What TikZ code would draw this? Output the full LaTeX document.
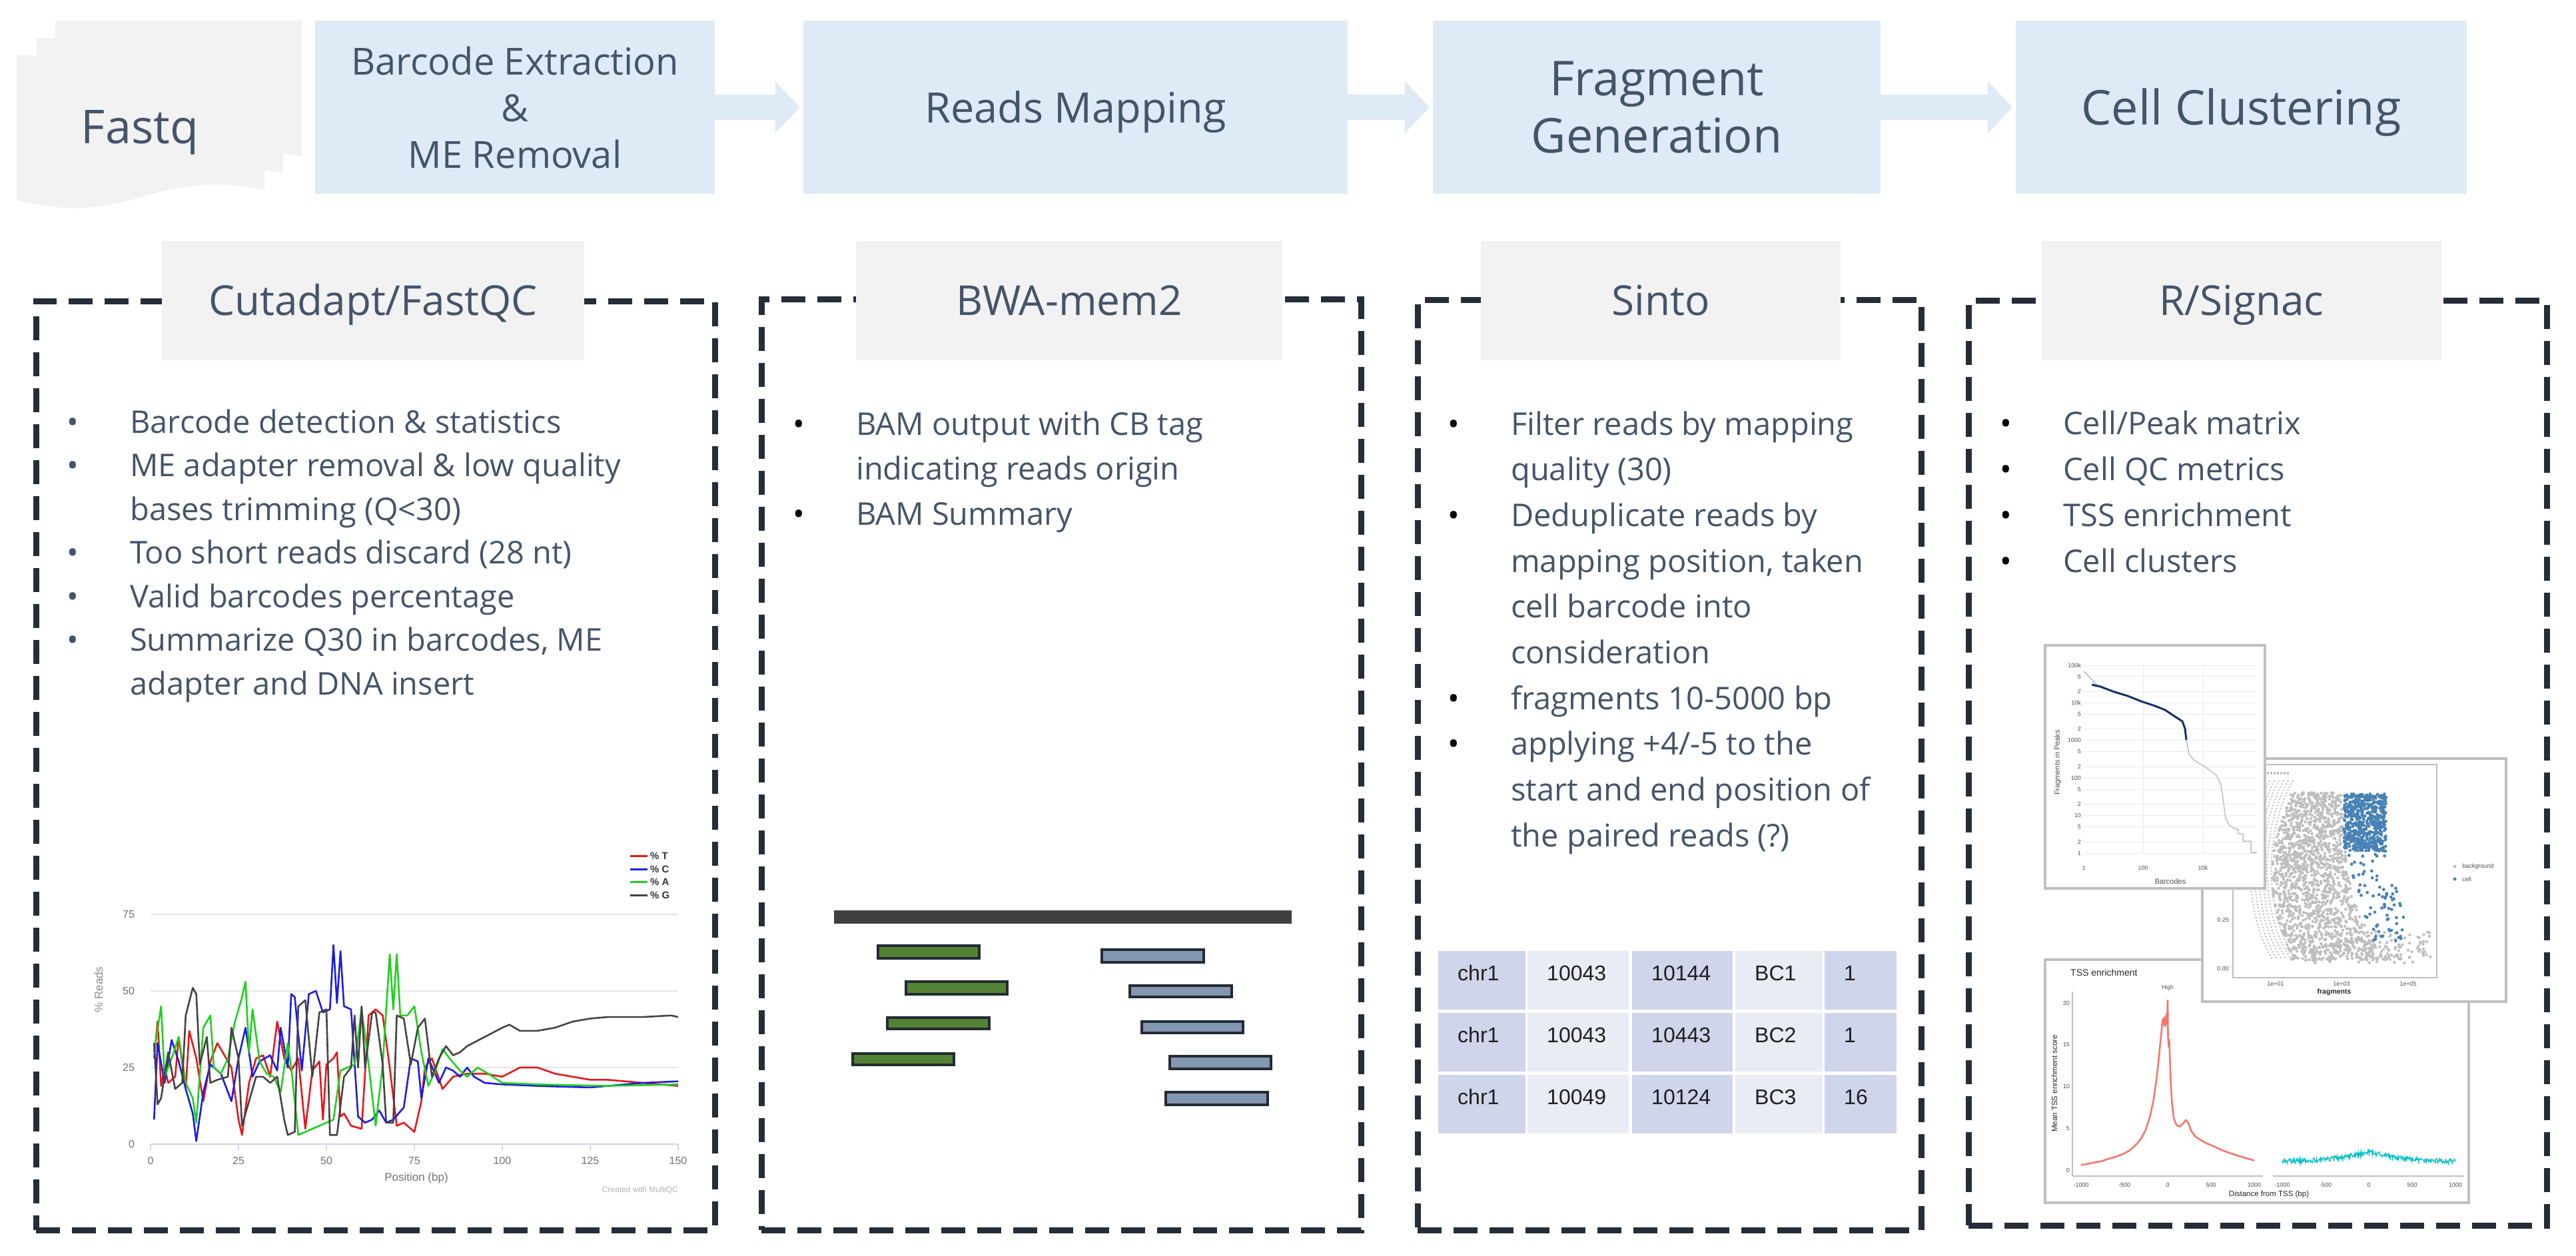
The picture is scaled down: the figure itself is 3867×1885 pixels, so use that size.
\documentclass[tikz,border=0pt]{standalone}
\usepackage{fontspec}
\setmainfont{Open Sans}
\newfontfamily\arialfont{Liberation Sans}

\definecolor{txtcol}{HTML}{44546A}
\definecolor{stepfill}{HTML}{DEEAF6}
\definecolor{toolfill}{HTML}{F2F2F2}
\definecolor{dashcol}{HTML}{252D38}
\definecolor{tabdark}{HTML}{CFD5EA}
\definecolor{tablight}{HTML}{E9EBF5}
\definecolor{readgreen}{HTML}{548235}
\definecolor{readblue}{HTML}{8497B0}
\definecolor{readedge}{HTML}{222A35}
\definecolor{refcol}{HTML}{404040}
\definecolor{qcT}{HTML}{E8161B}
\definecolor{qcC}{HTML}{1C1CE3}
\definecolor{qcA}{HTML}{1FD01F}
\definecolor{qcG}{HTML}{434343}
\definecolor{qcgridcol}{HTML}{E6E6E6}
\definecolor{qcaxiscol}{HTML}{CCD6EB}
\definecolor{kneenavy}{HTML}{132F6B}
\definecolor{cellblue}{HTML}{4682B4}
\definecolor{bggrey}{HTML}{BEBEBE}
\definecolor{tssred}{HTML}{F8766D}
\definecolor{tsscyan}{HTML}{00BFC4}
\definecolor{framegrey}{HTML}{BFBFBF}
\definecolor{gridgrey}{HTML}{EBEBEB}
\definecolor{labgrey}{HTML}{4D4D4D}

\tikzset{
  stepbox/.style={fill=stepfill, inner sep=0pt, align=center, text=txtcol, minimum height=260pt},
  toolbox/.style={fill=toolfill, inner sep=0pt, text=txtcol, minimum height=179pt,
    font=\fontsize{62}{74}\selectfont, text height=44pt, text depth=0pt},
  panel/.style={draw=dashcol, line width=9pt, dash pattern=on 36pt off 18pt, inner sep=0pt},
  item/.style={anchor=base west, inner sep=0pt, text=txtcol, font=\fontsize{47}{60}\selectfont},
  sheet/.style={fill=toolfill},
  flow/.style={fill=stepfill},
  readg/.style={fill=readgreen, draw=readedge, line width=3.5pt},
  readb/.style={fill=readblue, draw=readedge, line width=3.5pt},
  tcell/.style={anchor=north west, inner xsep=29pt, inner ysep=0pt, text height=44pt, text depth=44pt,
    align=left, text=black!88, font=\arialfont\fontsize{32}{38}\selectfont},
  qcline/.style={line width=2.6pt, line join=round},
  qcgrid/.style={draw=qcgridcol, line width=1.5pt},
  qcaxis/.style={draw=qcaxiscol, line width=2pt},
  qctick/.style={inner sep=0pt, text=black!55, font=\arialfont\fontsize{16}{19}\selectfont},
  ptick/.style={inner sep=0pt, text=labgrey, font=\arialfont\fontsize{9}{11}\selectfont},
  plotframe/.style={fill=white, draw=framegrey, line width=4pt},
}

\newcommand{\bul}{\llap{\textbullet\hspace{77pt}}}
\newcommand{\bulk}{\llap{\textcolor{black}{\textbullet}\hspace{77pt}}}
\newcommand{\flowarrow}[2]{%
  \fill[flow] ([yshift=19pt]#1.east) -- ([xshift=-42pt,yshift=19pt]#2.west)
    -- ([xshift=-42pt,yshift=39pt]#2.west) -- ([xshift=-5pt]#2.west)
    -- ([xshift=-42pt,yshift=-39pt]#2.west) -- ([xshift=-42pt,yshift=-19pt]#2.west)
    -- ([yshift=-19pt]#1.east) -- cycle;}

\begin{document}
\begin{tikzpicture}[x=1pt, y=-1pt]
\useasboundingbox (0,0) rectangle (3867,1885);
\fill[white] (0,0) rectangle (3867,1885);

% input files
\fill[sheet] (83,31) -- (453,31) -- (453,235) .. controls (288,200) and (250,295) .. (83,250) -- cycle;
\fill[sheet] (55,57) -- (425,57) -- (425,260) .. controls (260,225) and (222,320) .. (55,275) -- cycle;
\fill[sheet] (25,83) -- (397,83) -- (397,285) .. controls (230,250) and (192,345) .. (25,300) -- cycle;
\node[inner sep=0pt, anchor=base, text=txtcol, font=\fontsize{70}{84}\selectfont] (fq) at (210,215) {Fastq};

% pipeline steps
\node[stepbox, minimum width=600pt, font=\fontsize{56}{70}\selectfont] (bce) at (773,161)
  {Barcode Extraction\\\&\\ME Removal};
\node[stepbox, minimum width=817pt, font=\fontsize{63}{75}\selectfont, text height=46pt, text depth=0pt] (rm) at (1614.5,161)
  {Reads Mapping};
\node[stepbox, minimum width=672pt, font=\fontsize{72}{86}\selectfont] (fg) at (2487,161)
  {Fragment\\Generation};
\node[stepbox, minimum width=677pt, font=\fontsize{72}{86}\selectfont, text height=52pt, text depth=0pt] (cc) at (3364.5,161)
  {Cell Clustering};
\flowarrow{bce}{rm}
\flowarrow{rm}{fg}
\flowarrow{fg}{cc}

% tool panels
\node[panel, minimum width=1019pt, minimum height=1395pt] (p1) at (563.5,1149.5) {};
\node[panel, minimum width=900pt, minimum height=1398pt] (p2) at (1593,1148) {};
\node[panel, minimum width=756pt, minimum height=1397pt] (p3) at (2506,1148.5) {};
\node[panel, minimum width=868pt, minimum height=1389pt] (p4) at (3389,1145.5) {};
\node[toolbox, minimum width=634pt] (t1) at (560,451.5) {Cutadapt/FastQC};
\node[toolbox, minimum width=640pt] (t2) at (1605,451.5) {BWA-mem2};
\node[toolbox, minimum width=540pt] (t3) at (2493,451.5) {Sinto};
\node[toolbox, minimum width=600pt] (t4) at (3365,451.5) {R/Signac};

% Cutadapt/FastQC
\node[item] (c1) at (195,650) {\bul Barcode detection \& statistics};
\node[item] (c2) at (195,715.5) {\bul ME adapter removal \& low quality};
\node[item] (c3) at (195,781) {bases trimming (Q<30)};
\node[item] (c4) at (195,846.5) {\bul Too short reads discard (28 nt)};
\node[item] (c5) at (195,912) {\bul Valid barcodes percentage};
\node[item] (c6) at (195,977.5) {\bul Summarize Q30 in barcodes, ME};
\node[item] (c7) at (195,1043) {adapter and DNA insert};

% BWA-mem2
\node[item] (w1) at (1285,653) {\bulk BAM output with CB tag};
\node[item] (w2) at (1285,720.5) {indicating reads origin};
\node[item] (w3) at (1285,788) {\bulk BAM Summary};

% Sinto
\node[item] (s1) at (2268,653) {\bulk Filter reads by mapping};
\node[item] (s2) at (2268,721) {quality (30)};
\node[item] (s3) at (2268,790) {\bulk Deduplicate reads by};
\node[item] (s4) at (2268,859) {mapping position, taken};
\node[item] (s5) at (2268,927) {cell barcode into};
\node[item] (s6) at (2268,996) {consideration};
\node[item] (s7) at (2268,1065) {\bulk fragments 10-5000 bp};
\node[item] (s8) at (2268,1133) {\bulk applying +4/-5 to the};
\node[item] (s9) at (2268,1202) {start and end position of};
\node[item] (s10) at (2268,1271) {the paired reads (?)};

% R/Signac
\node[item] (r1) at (3097,652) {\bulk Cell/Peak matrix};
\node[item] (r2) at (3097,721) {\bulk Cell QC metrics};
\node[item] (r3) at (3097,790) {\bulk TSS enrichment};
\node[item] (r4) at (3097,859) {\bulk Cell clusters};

% per base sequence content
\begin{scope}[shift={(226,1718)}, xscale=5.28, yscale=-4.6]
  \foreach \g in {25,50,75} \draw[qcgrid] (0,\g) -- (150,\g);
  \draw[qcaxis] (0,0) -- (150,0);
  \foreach \t in {0,25,...,150} {
    \draw[qcaxis] (\t,0) -- (\t,-2);
    \node[qctick] (qx\t) at (\t,-5.4) {\t};
  }
  \foreach \g in {0,25,50,75} \node[qctick, anchor=east] (qy\g) at (-4.5,\g) {\g};
  \draw[qcline, qcT] plot coordinates {(1,28) (2,40) (3,19) (4,25) (5,20) (7,22) (8,35) (10,18) (11,37) (13,28) (15,14) (17,27) (19,33) (21,29) (23,25) (25,8) (26,3) (28,20) (30,28) (32,29) (34,22) (36,40) (38,28) (40,24) (42,28) (44,5) (46,24) (48,27) (49,8) (50,26) (52,28) (53,30) (54,9) (55,10) (57,6) (60,5) (62,42) (64,44) (66,42) (68,25) (70,6) (72,7) (75,4) (77,14) (78,25) (80,28) (83,18) (86,22) (90,23) (95,23) (100,22) (105,25) (110,25) (115,23) (120,22) (125,21) (130,21) (140,20) (150,19)};
  \draw[qcline, qcC] plot coordinates {(1,8) (2,33) (4,20) (6,34) (8,27) (10,18) (12,10) (13,1) (15,17) (17,26) (20,23) (23,14) (25,28) (27,38) (29,22) (31,27) (34,29) (36,24) (37,38) (39,25) (40,49) (41,48) (43,24) (45,49) (47,50) (49,43) (51,44) (52,65) (53,46) (54,63) (55,45) (57,44) (59,9) (61,7) (63,8) (65,11) (67,7) (69,8) (72,12) (74,28) (76,27) (77,15) (79,28) (82,20) (84,25) (86,24) (88,22) (90,25) (92,22) (95,20) (100,19.5) (110,19) (125,18.5) (140,20) (150,20.5)};
  \draw[qcline, qcA] plot coordinates {(1,30) (3,45) (4,22) (6,28) (8,35) (10,20) (12,15) (13,7) (15,38) (17,42) (18,25) (20,23) (22,28) (24,40) (26,48) (27,53) (28,30) (29,44) (31,27) (33,23) (35,22) (37,17) (39,33) (40,25) (42,3) (44,4) (46,5) (48,6) (50,7) (52,8) (54,24) (56,25) (58,26) (60,44) (62,26) (64,6) (66,26) (68,62) (69,44) (70,62) (71,42) (73,42) (75,45) (77,30) (79,19) (81,24) (83,31) (85,28) (88,24) (90,22) (93,25) (96,23) (100,20) (110,19.5) (130,19) (150,19.5)};
  \draw[qcline, qcG] plot coordinates {(1,33) (2,13) (3,15) (5,30) (7,18) (9,20) (10,42) (12,51) (13,49) (14,26) (16,35) (17,20) (19,21) (22,22) (23,38) (25,28) (26,6) (28,14) (30,22) (32,22) (34,20) (36,22) (38,8) (39,3) (41,4) (42,45) (44,47) (46,22) (48,43) (50,44) (51,3) (53,3) (55,22) (57,25) (58,42) (59,25) (60,45) (61,25) (63,43) (64,43) (66,26) (67,7) (69,7) (70,42) (72,41) (74,26) (76,38) (78,41) (80,22) (82,28) (84,32) (86,29) (88,30) (90,32) (95,35) (100,38) (102,39) (105,37) (110,37) (115,38) (120,40) (125,41) (130,41.5) (140,41.5) (148,42) (150,41.5)};
\end{scope}
\foreach \c/\lab/\yy in {qcT/T/1285,qcC/C/1305,qcA/A/1324,qcG/G/1344} {
  \draw[\c, line width=3pt] (946,\yy) -- (972,\yy);
  \node[inner sep=0pt, anchor=west, text=black!80, font=\arialfont\bfseries\fontsize{15}{18}\selectfont] (lg\lab) at (976,\yy) {\% \lab};
}
\node[inner sep=0pt, text=black!55, font=\arialfont\fontsize{17}{20}\selectfont] (qcxl) at (625,1769) {Position (bp)};
\node[inner sep=0pt, rotate=90, text=black!45, font=\arialfont\fontsize{17}{20}\selectfont] (qcyl) at (148,1486) {\% Reads};
\node[inner sep=0pt, anchor=east, text=black!30, font=\arialfont\fontsize{12}{14}\selectfont] (qcby) at (1018,1787) {Created with MultiQC};

% reads on the reference
\fill[refcol] (1252,1367) rectangle (1939,1387);
\draw[readg] (1318,1420) rectangle (1470,1439);
\draw[readg] (1360,1474) rectangle (1512,1493);
\draw[readg] (1332,1528) rectangle (1485,1545);
\draw[readg] (1280,1582) rectangle (1432,1599);
\draw[readb] (1654,1426) rectangle (1807,1445);
\draw[readb] (1696,1480) rectangle (1849,1497);
\draw[readb] (1714,1534) rectangle (1866,1551);
\draw[readb] (1756,1586) rectangle (1908,1605);
\draw[readb] (1750,1640) rectangle (1903,1659);

% fragments table
\foreach \r/\yy/\ca/\cb/\cc/\cd/\ce in {1/1428/chr1/10043/10144/BC1/1, 2/1521/chr1/10043/10443/BC2/1, 3/1614/chr1/10049/10124/BC3/16} {
  \node[tcell, fill=tabdark, text width=73pt] (row\r-a) at (2159,\yy) {\ca};
  \node[tcell, fill=tablight, text width=94pt] (row\r-b) at (2293,\yy) {\cb};
  \node[tcell, fill=tabdark, text width=93pt] (row\r-c) at (2450,\yy) {\cc};
  \node[tcell, fill=tablight, text width=73pt] (row\r-d) at (2605,\yy) {\cd};
  \node[tcell, fill=tabdark, text width=50pt] (row\r-e) at (2739,\yy) {\ce};
}

% TSS enrichment
\draw[plotframe] (3070,1441) rectangle (3706,1806);
\node[inner sep=0pt, anchor=west, text=black!85, font=\arialfont\fontsize{14}{16}\selectfont] (tsst) at (3108,1460) {TSS enrichment};
\node[ptick, font=\arialfont\fontsize{8.5}{10}\selectfont] (tssh) at (3254,1483) {High};
\draw[framegrey, line width=1.2pt] (3111,1489) -- (3111,1766);
\draw[framegrey, line width=1.2pt] (3111,1766) -- (3397,1766);
\draw[framegrey, line width=1.2pt] (3412,1766) -- (3699,1766);
\foreach \v in {0,5,10,15,20} \node[ptick, anchor=east] (ty\v) at (3107,{1757-12.55*\v}) {\v};
\foreach \d in {-1000,-500,0,500,1000} {
  \node[ptick] (tl\d) at ({3254+0.13*\d},1779) {\d};
  \node[ptick] (tr\d) at ({3556+0.13*\d},1779) {\d};
}
\node[inner sep=0pt, rotate=90, text=black!85, font=\arialfont\fontsize{11.5}{14}\selectfont] (tssy) at (3084,1627) {Mean TSS enrichment score};
\node[inner sep=0pt, text=black!85, font=\arialfont\fontsize{11.5}{14}\selectfont] (tssx) at (3406,1793) {Distance from TSS (bp)};
\pgfmathsetseed{7}
\begin{scope}[shift={(3254,1757)}, xscale=0.13, yscale=-12.55]
  \draw[tssred, line width=2.6pt, line join=round] plot coordinates {(-1000,0.6) (-950,0.7) (-900,0.8) (-850,0.9) (-800,1.0) (-750,1.1) (-700,1.3) (-650,1.45) (-600,1.6) (-550,1.8) (-500,2.0) (-450,2.3) (-400,2.7) (-350,3.2) (-300,3.9) (-250,4.9) (-200,6.6) (-160,8.6) (-130,10.8) (-100,13.6) (-80,15.8) (-65,17.2) (-55,18.1) (-45,17.4) (-35,18.3) (-25,17.2) (-15,18.6) (-8,17.5) (0,20.3) (4,16) (10,14.8) (18,15.6) (25,13.5) (35,10.5) (50,8) (70,6.2) (100,5.4) (140,5.2) (180,5.6) (210,6.0) (240,5.6) (270,4.7) (320,4.0) (380,3.6) (450,3.2) (520,2.9) (600,2.5) (700,2.1) (800,1.75) (900,1.45) (1000,1.15)};
\end{scope}
\begin{scope}[shift={(3556,1757)}, xscale=0.13, yscale=-12.55]
  \draw[tsscyan, line width=1.3pt] plot[domain=-1000:1000, samples=320] (\x,{0.9+1.3*exp(-abs(\x)/420)+0.3*rand});
\end{scope}

% cell calling scatter
\draw[plotframe] (3306,1139) rectangle (3762,1504);
\draw[framegrey, line width=1.2pt] (3352,1148) rectangle (3658,1468);
\begin{scope}
  \clip (3353,1149) rectangle (3657,1467);
  \foreach \k in {0,...,5}
    \draw[bggrey, line width=2pt, dash pattern=on 2pt off 3pt] ({3442-7*\k},1172) .. controls ({3398-6*\k},1250) and ({3398-6*\k},1370) .. ({3446-7*\k},1440);
  \draw[bggrey, line width=4pt, dash pattern=on 3pt off 2pt] (3403,1161) -- (3436,1161);
  \foreach \i in {1,...,1600} {
    \pgfmathsetmacro\v{rnd}
    \pgfmathsetmacro\xl{3440-30*sin(180*\v)}
    \pgfmathsetmacro\xr{3514+22*\v+80*\v^6}
    \fill[bggrey] ({\xl+(\xr-\xl)*rnd},{1190+252*\v}) circle[radius=2.2pt];
  }
  \foreach \i in {1,...,160} \fill[bggrey] ({3440+210*rnd},{1398+48*rnd}) circle[radius=2.2pt];
  \foreach \i in {1,...,650} \fill[cellblue] ({3518+64*rnd},{1192+86*rnd}) circle[radius=2.2pt];
  \foreach \i in {1,...,80} {
    \pgfmathsetmacro\v{rnd}
    \fill[cellblue] ({3520+60*rnd+40*\v},{1275+140*\v}) circle[radius=2.4pt];
  }
\end{scope}
\node[ptick, anchor=east] (sy25) at (3346,1381) {0.25};
\node[ptick, anchor=east] (sy00) at (3346,1454) {0.00};
\node[ptick] (sx1) at (3416,1477) {1e+01};
\node[ptick] (sx3) at (3515,1477) {1e+03};
\node[ptick] (sx5) at (3615,1477) {1e+05};
\node[inner sep=0pt, text=black!85, font=\arialfont\bfseries\fontsize{10.5}{12}\selectfont] (sxl) at (3504,1490) {fragments};
\fill[bggrey] (3685,1301) circle[radius=2.5pt];
\fill[cellblue] (3685,1320) circle[radius=2.5pt];
\node[ptick, anchor=west] (lgbg) at (3696,1301) {background};
\node[ptick, anchor=west] (lgcell) at (3696,1320) {cell};

% barcode rank plot
\draw[plotframe] (3070,969) rectangle (3400,1334);
\foreach \x in {3217,3307} \draw[gridgrey, line width=1pt] (\x,998) -- (\x,1281);
\foreach \n/\e/\lab in {1/0/1,2/0.30103/2,3/0.69897/5,4/1/10,5/1.30103/2,6/1.69897/5,7/2/100,8/2.30103/2,9/2.69897/5,10/3/1000,11/3.30103/2,12/3.69897/5,13/4/10k,14/4.30103/2,15/4.69897/5,16/5/100k} {
  \pgfmathsetmacro\yy{1281-56.4*\e}
  \draw[gridgrey, line width=1pt] (3127,\yy) -- (3388,\yy);
  \node[ptick, anchor=east, font=\arialfont\fontsize{9}{10}\selectfont] (ky\n) at (3124,\yy) {\lab};
}
\node[ptick, font=\arialfont\fontsize{9}{10}\selectfont] (kx1) at (3128,1303) {1};
\node[ptick, font=\arialfont\fontsize{9}{10}\selectfont] (kx2) at (3217,1303) {100};
\node[ptick, font=\arialfont\fontsize{9}{10}\selectfont] (kx3) at (3307,1303) {10k};
\node[ptick, font=\arialfont\fontsize{11}{13}\selectfont] (kxl) at (3258,1324) {Barcodes};
\node[ptick, rotate=90, font=\arialfont\fontsize{11}{13}\selectfont] (kyl) at (3089,1145) {Fragments in Peaks};
\draw[bggrey, line width=1.5pt] (3128,1008) -- (3142,1022) -- (3148,1029);
\draw[kneenavy, line width=3pt, line join=round] plot coordinates {(3140,1028) (3153,1031) (3174,1039) (3194,1045) (3214,1053) (3235,1060) (3250,1066) (3265,1076) (3276,1083) (3280,1094) (3282,1111)};
\draw[bggrey, line width=1.5pt, line join=round] plot coordinates {(3282,1111) (3286,1132) (3293,1141) (3311,1152) (3327,1164) (3334,1178) (3337,1199) (3341,1229) (3347,1240) (3357,1245) (3360,1245) (3360,1252) (3367,1252) (3367,1263) (3379,1263) (3379,1280) (3388,1280)};
\end{tikzpicture}
\end{document}
